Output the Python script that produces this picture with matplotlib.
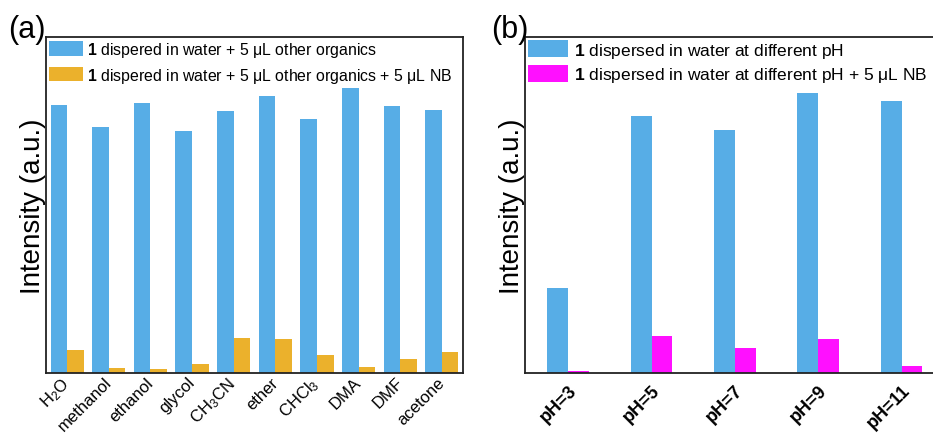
import matplotlib
matplotlib.use("Agg")
import matplotlib.pyplot as plt
import numpy as np

plt.rcParams['font.family'] = ['Liberation Sans', 'DejaVu Sans']
plt.rcParams['mathtext.fontset'] = 'custom'
plt.rcParams['mathtext.rm'] = 'Liberation Sans'
plt.rcParams['mathtext.it'] = 'Liberation Sans:italic'
plt.rcParams['mathtext.bf'] = 'Liberation Sans:bold'

# ---- data: panel (a), solvents ----
solvents = ['H$_2$O', 'methanol', 'ethanol', 'glycol', 'CH$_3$CN', 'ether',
            'CHCl$_3$', 'DMA', 'DMF', 'acetone']
organics = [268, 246, 270, 242, 262, 277, 254, 285, 267, 263]
organics_nb = [23, 5, 4, 9, 35, 34, 18, 6, 14, 21]

# ---- data: panel (b), pH ----
ph_labels = ['pH=3', 'pH=5', 'pH=7', 'pH=9', 'pH=11']
ph_values = [85, 257, 243, 280, 272]
ph_values_nb = [2, 37, 25, 34, 7]

BLUE = '#57ade6'
ORANGE = '#ebb12c'
MAGENTA = '#ff10ff'

W, H = 933, 435
fig = plt.figure(figsize=(W / 100, H / 100), dpi=100)

ax1 = fig.add_axes([46 / W, (H - 374) / H, (463 - 46) / W, (374 - 38) / H])
ax2 = fig.add_axes([525 / W, (H - 374) / H, (W - 525) / W, (374 - 38) / H])

# panel (a)
x1 = np.arange(len(solvents))
ax1.bar(x1 - 0.2, organics, width=0.4, color=BLUE,
        label=r'$\mathbf{1}$ dispered in water + 5 μL other organics')
ax1.bar(x1 + 0.2, organics_nb, width=0.4, color=ORANGE,
        label=r'$\mathbf{1}$ dispered in water + 5 μL other organics + 5 μL NB')
ax1.set_xlim(-0.51, 9.51)
ax1.set_ylim(0, 336)
# labels sit slightly right of each group centre
ax1.set_xticks(x1 + 0.14)
ax1.set_xticklabels(solvents, rotation=45, ha='right', fontsize=12)
ax1.tick_params(axis='x', length=0, pad=1)

# panel (b)
x2 = np.arange(len(ph_labels))
ax2.bar(x2 - 0.125, ph_values, width=0.25, color=BLUE,
        label=r'$\mathbf{1}$ dispersed in water at different pH')
ax2.bar(x2 + 0.125, ph_values_nb, width=0.25, color=MAGENTA,
        label=r'$\mathbf{1}$ dispersed in water at different pH + 5 μL NB')
ax2.set_xlim(-0.52, (W - 568.3) / 83.3)
ax2.set_ylim(0, 336)
ax2.set_xticks(x2 + 0.14)
ax2.set_xticklabels(ph_labels, rotation=45, ha='right', fontsize=13,
                    fontweight='bold')
ax2.tick_params(axis='x', length=0, pad=6)
ax2.spines['right'].set_visible(False)

for ax in (ax1, ax2):
    ax.set_yticks([])
    ax.set_ylabel('Intensity (a.u.)', fontsize=20, labelpad=0)
    for sp in ax.spines.values():
        sp.set_linewidth(1.3)
        sp.set_color('#222222')

ax1.legend(loc='upper left', bbox_to_anchor=(0.0, 1.0), frameon=False,
           fontsize=11.4, handlelength=2.15, handleheight=1.05,
           handletextpad=0.25, labelspacing=0.4, borderaxespad=0.0,
           borderpad=0.2)
ax2.legend(loc='upper left', bbox_to_anchor=(0.0, 1.0), frameon=False,
           fontsize=12.5, handlelength=2.25, handleheight=1.1,
           handletextpad=0.35, labelspacing=0.3, borderaxespad=0.0,
           borderpad=0.2)

fig.text(8 / W, 1 - 30 / H, '(a)', fontsize=22, va='center', ha='left')
fig.text(491 / W, 1 - 30 / H, '(b)', fontsize=22, va='center', ha='left')

fig.savefig('out.png', dpi=100)
